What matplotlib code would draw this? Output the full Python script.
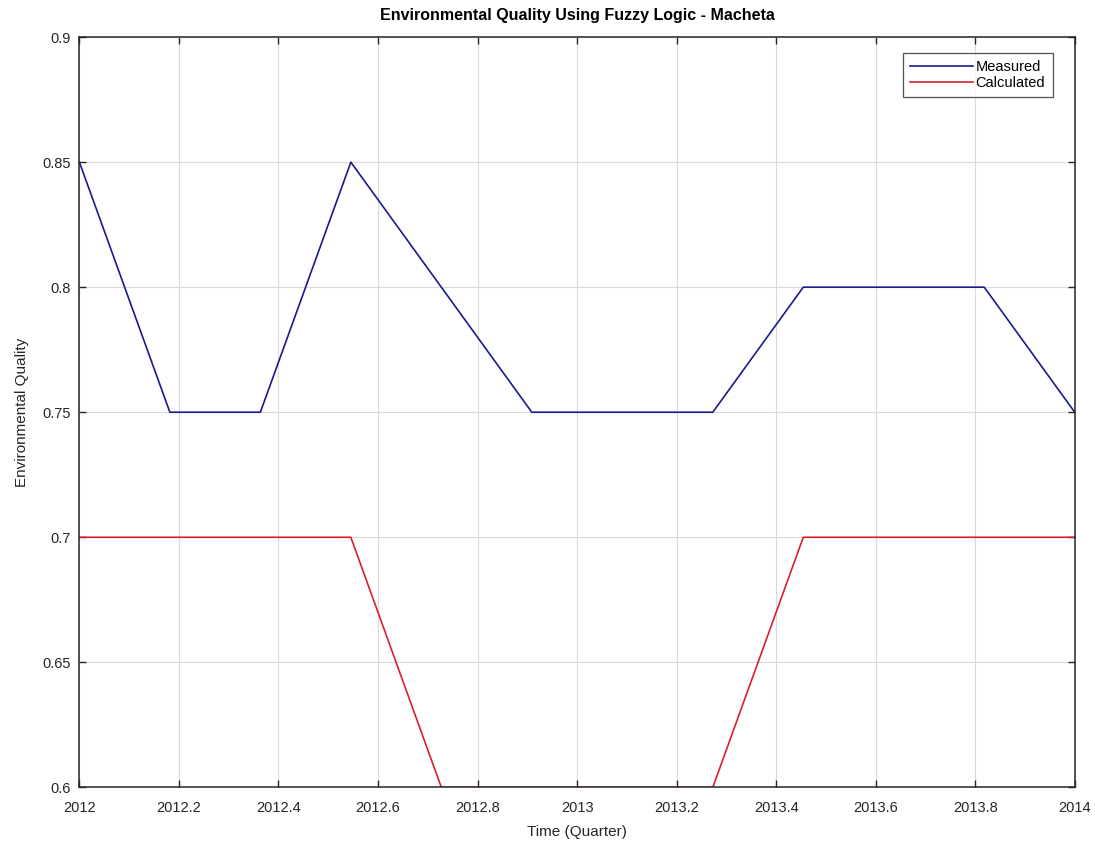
import matplotlib as mpl
mpl.use('Agg')
import matplotlib.pyplot as plt
import numpy as np

plt.rcParams['font.family'] = ['Liberation Sans', 'DejaVu Sans']

time = np.linspace(2012, 2014, 12)
measured = [0.85, 0.75, 0.75, 0.85, 0.80, 0.75, 0.75, 0.75, 0.80, 0.80, 0.80, 0.75]
calculated = [0.70, 0.70, 0.70, 0.70, 0.60, 0.60, 0.60, 0.60, 0.70, 0.70, 0.70, 0.70]

xticks = [2012, 2012.2, 2012.4, 2012.6, 2012.8, 2013, 2013.2, 2013.4, 2013.6, 2013.8, 2014]
xlabels = ['2012', '2012.2', '2012.4', '2012.6', '2012.8', '2013', '2013.2', '2013.4', '2013.6', '2013.8', '2014']
yticks = [0.6, 0.65, 0.7, 0.75, 0.8, 0.85, 0.9]
ylabels = ['0.6', '0.65', '0.7', '0.75', '0.8', '0.85', '0.9']

fig = plt.figure(figsize=(10.95, 8.43), dpi=100)
ax = fig.add_axes([0.0725, 0.066, 0.909, 0.890])

ax.plot(time, measured, color='#1a1a8e', lw=1.2, label='Measured')
ax.plot(time, calculated, color='#d8202c', lw=1.2, label='Calculated')

ax.set_xlim(2012, 2014)
ax.set_ylim(0.6, 0.9)
ax.set_xticks(xticks)
ax.set_xticklabels(xlabels)
ax.set_yticks(yticks)
ax.set_yticklabels(ylabels)
ax.tick_params(direction='in', labelsize=10.5, colors='#262626', length=5, width=1,
               top=True, right=True)
ax.tick_params(axis='x', pad=10)
ax.tick_params(axis='y', pad=6)
ax.grid(True, color='#dadada', lw=0.8)
for s in ax.spines.values():
    s.set_color('#262626')
    s.set_linewidth(1.1)

ax.set_xlabel('Time (Quarter)', fontsize=11, color='#262626', labelpad=7)
ax.set_ylabel('Environmental Quality', fontsize=11, color='#262626', labelpad=10)
ax.set_title('Environmental Quality Using Fuzzy Logic - Macheta', fontsize=11.5,
             fontweight='bold', color='black', pad=12)

leg = ax.legend(loc='upper right', fontsize=10.5, frameon=True, fancybox=False,
                edgecolor='#262626', borderpad=0.5, handlelength=4.3, handletextpad=0.2,
                labelspacing=0.15, bbox_to_anchor=(0.985, 0.989))
leg.get_frame().set_linewidth(0.9)

plt.savefig('out.png', dpi=100)
